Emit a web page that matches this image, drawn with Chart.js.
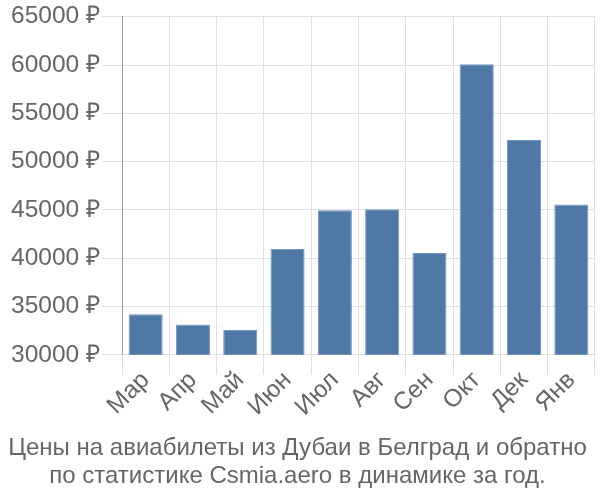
<!DOCTYPE html>
<html>
<head>
<meta charset="utf-8">
<script src="https://cdn.jsdelivr.net/npm/chart.js@4"></script>
<style>
  html, body { margin: 0; padding: 0; background: #fff; }
  #wrap { width: 600px; height: 500px; }
</style>
</head>
<body>
<div id="wrap"><canvas id="prices"></canvas></div>
<script>
// months shown on the x axis
const months = ["Мар", "Апр", "Май", "Июн", "Июл", "Авг", "Сен", "Окт", "Дек", "Янв"];
// average ticket price, roubles
const prices = [34200, 33150, 32570, 40950, 44960, 45060, 40540, 60080, 52250, 45570];
const titleLines = [
    "Цены на авиабилеты из Дубаи в Белград и обратно",
    "по статистике Csmia.aero в динамике за год."
];

const textColor = "#666666";
const gridColor = "#e0e0e0";
const font = { family: "'Liberation Sans', Arial, sans-serif", size: 24.5 };

new Chart(document.getElementById('prices'), {
    type: 'bar',
    data: {
        labels: months,
        datasets: [{
            data: prices,
            backgroundColor: '#4e79a7',
            borderColor: '#7396be',
            borderWidth: 1
        }]
    },
    options: {
        responsive: true,
        maintainAspectRatio: false,
        animation: false,
        layout: { padding: { top: 0, right: 5, left: 0, bottom: 10 } },
        plugins: {
            legend: { display: false },
            tooltip: { enabled: false },
            title: {
                display: true,
                position: 'bottom',
                text: titleLines,
                color: textColor,
                font: { family: font.family, size: 24, weight: 'normal', lineHeight: 1.17 },
                padding: { top: 10, bottom: 0 }
            }
        },
        scales: {
            x: {
                afterFit: (scale) => { scale.height = 69; },
                ticks: {
                    color: textColor,
                    font: font,
                    maxRotation: 45,
                    minRotation: 45,
                    padding: -9
                },
                grid: { color: gridColor, tickLength: 20 },
                border: { color: gridColor }
            },
            y: {
                min: 30000,
                max: 65000,
                afterFit: (scale) => { scale.width = 122; },
                ticks: {
                    stepSize: 5000,
                    color: textColor,
                    font: font,
                    padding: 2,
                    callback: (v) => v + ' ₽'
                },
                grid: { color: gridColor, tickLength: 20 },
                border: { color: '#a0a0a0' }
            }
        }
    }
});
</script>
</body>
</html>
